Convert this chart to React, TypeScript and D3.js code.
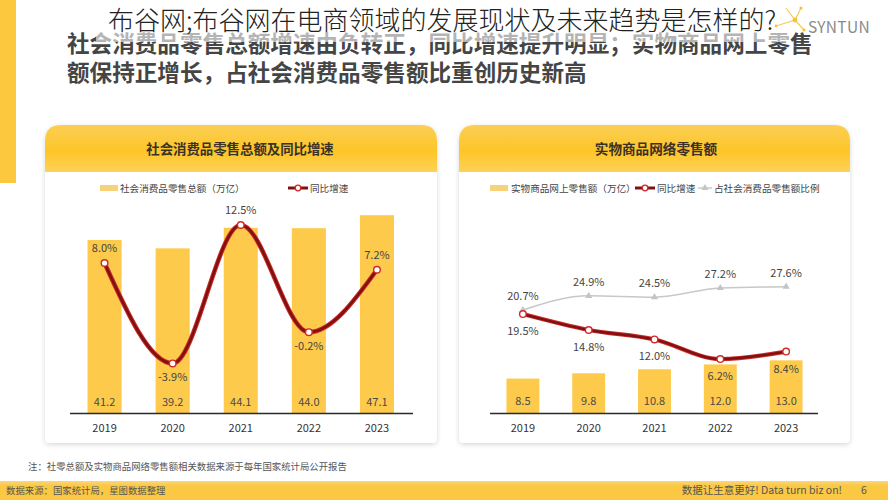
import React from 'react';
import * as d3 from 'd3';

const years = ['2019', '2020', '2021', '2022', '2023'];
const retailTotal = [41.2, 39.2, 44.1, 44.0, 47.1];
const retailGrowth = [8.0, -3.9, 12.5, -0.2, 7.2];
const onlineRetail = [8.5, 9.8, 10.8, 12.0, 13.0];
const onlineGrowth = [19.5, 14.8, 12.0, 6.2, 8.4];
const onlineShare = [20.7, 24.9, 24.5, 27.2, 27.6];

const FONT = '"Noto Sans CJK SC", "Noto Sans", sans-serif';
const BAR = '#fdca4c';
const RED_OUT = '#cf2a26';
const RED_IN = '#7e1212';

function panelPath(x0: number, y0: number, x1: number, y1: number, rt: number, rb: number) {
  return `M${x0},${y0 + rt} Q${x0},${y0} ${x0 + rt},${y0} L${x1 - rt},${y0} Q${x1},${y0} ${x1},${y0 + rt} L${x1},${y1 - rb} Q${x1},${y1} ${x1 - rb},${y1} L${x0 + rb},${y1} Q${x0},${y1} ${x0},${y1 - rb} Z`;
}
function headerPath(x0: number, y0: number, x1: number, y1: number, rt: number) {
  return `M${x0},${y1} L${x0},${y0 + rt} Q${x0},${y0} ${x0 + rt},${y0} L${x1 - rt},${y0} Q${x1},${y0} ${x1},${y0 + rt} L${x1},${y1} Z`;
}

export default function App() {
  const xL = d3.scaleBand<string>().domain(years).range([70.5, 411]).paddingInner(0.5).paddingOuter(0.25);
  const yLBar = d3.scaleLinear().domain([0, 50]).range([413, 203]);
  const yLLine = d3.scaleLinear().domain([-5, 15]).range([372.7, 203.9]);
  const xR = d3.scaleBand<string>().domain(years).range([490, 819]).paddingInner(0.5).paddingOuter(0.25);
  const yRBar = d3.scaleLinear().domain([0, 20]).range([413, 332]);
  const yRLine = d3.scaleLinear().domain([0, 40]).range([380, 244.8]);

  const cx = (s: d3.ScaleBand<string>, k: string) => (s(k) as number) + s.bandwidth() / 2;

  const lineL = d3.line<number>().x((_, i) => cx(xL, years[i])).y((d) => yLLine(d)).curve(d3.curveMonotoneX);
  const lineR = d3.line<number>().x((_, i) => cx(xR, years[i])).y((d) => yRLine(d)).curve(d3.curveMonotoneX);

  const tri = d3.symbol().type(d3.symbolTriangle).size(22)() as string;
  const txt = { fontFamily: FONT } as React.CSSProperties;

  return (
    <div style={{ position: 'absolute', left: 0, top: 0 }}>
      <svg width={888} height={500} style={{ display: 'block', background: '#fff' }}>
        <defs>
          <linearGradient id="hdr" x1="0" y1="0" x2="0" y2="1">
            <stop offset="0%" stopColor="#fbcf55" />
            <stop offset="55%" stopColor="#fdc527" />
            <stop offset="100%" stopColor="#fdd257" />
          </linearGradient>
          <linearGradient id="foot" x1="0" y1="0" x2="0" y2="1">
            <stop offset="0%" stopColor="#fbd77a" />
            <stop offset="25%" stopColor="#fac843" />
            <stop offset="100%" stopColor="#fac843" />
          </linearGradient>
          <filter id="sh" x="-5%" y="-5%" width="110%" height="115%">
            <feDropShadow dx="0" dy="1.5" stdDeviation="2.5" floodColor="#000" floodOpacity="0.16" />
          </filter>
        </defs>

        <rect x={0} y={0} width={16} height={183} fill="#fcc93e" />

        <g style={txt} fontWeight={700} fontSize={22.6} fill="#454545">
          <text x={67} y={52}>社会消费品零售总额增速由负转正，同比增速提升明显；实物商品网上零售</text>
          <text x={67} y={81}>额保持正增长，占社会消费品零售额比重创历史新高</text>
        </g>
        <rect x={96} y={0} width={694} height={42} fill="#fff" opacity={0.6} />
        <text x={108} y={29.5} style={txt} fontSize={26} fill="#222" fontWeight={300}>布谷网;布谷网在电商领域的发展现状及未来趋势是怎样的?</text>

        <g stroke="#f6c23a" strokeWidth={1.2} fill="none" opacity={0.85}>
          <line x1={776} y1={26} x2={795} y2={20} />
          <line x1={795} y1={20} x2={801} y2={8} />
          <line x1={795} y1={20} x2={804} y2={30} />
          <line x1={795} y1={20} x2={786} y2={8} />
        </g>
        <g fill="#f6c23a">
          <circle cx={795} cy={20} r={2.4} />
          <circle cx={801} cy={8} r={1.6} />
          <circle cx={804} cy={30} r={1.6} />
          <circle cx={776} cy={26} r={1.4} />
        </g>
        <text x={808} y={33} style={txt} fontSize={15.5} fill="#8a8a8a" letterSpacing={0.3}>SYNTUN</text>

        <path d={panelPath(45, 125, 437, 443, 16, 5)} fill="#fff" filter="url(#sh)" />
        <path d={headerPath(45, 125, 437, 172, 16)} fill="url(#hdr)" />
        <path d={panelPath(459, 125, 850, 443, 16, 5)} fill="#fff" filter="url(#sh)" />
        <path d={headerPath(459, 125, 850, 172, 16)} fill="url(#hdr)" />

        <text x={240} y={154} textAnchor="middle" style={txt} fontWeight={700} fontSize={13.4} fill="#3a3226">社会消费品零售总额及同比增速</text>
        <text x={656} y={154} textAnchor="middle" style={txt} fontWeight={700} fontSize={13.6} fill="#3a3226">实物商品网络零售额</text>

        <g style={txt} fontSize={9.6} fill="#444">
          <rect x={100} y={185} width={18} height={6} fill="#f8d27a" />
          <text x={120} y={191.5}>社会消费品零售总额（万亿）</text>
          <line x1={288} y1={188} x2={308} y2={188} stroke={RED_IN} strokeWidth={3} />
          <circle cx={298} cy={188} r={2.8} fill="#fff" stroke={RED_OUT} strokeWidth={1.3} />
          <text x={310} y={191.5}>同比增速</text>
        </g>
        <g style={txt} fontSize={9.6} fill="#444">
          <rect x={490} y={185} width={18} height={6} fill="#f8d27a" />
          <text x={511} y={191.5}>实物商品网上零售额（万亿）</text>
          <line x1={635} y1={188} x2={655} y2={188} stroke={RED_IN} strokeWidth={3} />
          <circle cx={645} cy={188} r={2.8} fill="#fff" stroke={RED_OUT} strokeWidth={1.3} />
          <text x={657} y={191.5}>同比增速</text>
          <line x1={698} y1={188} x2={712} y2={188} stroke="#c8c8c8" strokeWidth={1.4} />
          <path d={tri} transform="translate(705,188)" fill="#c4c4c4" />
          <text x={714} y={191.5}>占社会消费品零售额比例</text>
        </g>

        {retailTotal.map((v, i) => (
          <g key={'lb' + i}>
            <rect x={xL(years[i])} y={yLBar(v)} width={xL.bandwidth()} height={yLBar(0) - yLBar(v)} fill={BAR} />
            <text x={cx(xL, years[i])} y={406} textAnchor="middle" style={txt} fontSize={11} fill="#4a4a4a">{v.toFixed(1)}</text>
            <text x={cx(xL, years[i])} y={432} textAnchor="middle" style={txt} fontSize={11} fill="#333">{years[i]}</text>
          </g>
        ))}
        <line x1={70} x2={413} y1={413.5} y2={413.5} stroke="#2a2a2a" strokeWidth={1.6} />
        <path d={lineL(retailGrowth) as string} fill="none" stroke={RED_OUT} strokeWidth={4.6} />
        <path d={lineL(retailGrowth) as string} fill="none" stroke={RED_IN} strokeWidth={2.6} />
        {retailGrowth.map((v, i) => {
          const above = i === 0 || i === 2 || i === 4;
          return (
            <g key={'lp' + i}>
              <circle cx={cx(xL, years[i])} cy={yLLine(v)} r={3.3} fill="#fff" stroke={RED_OUT} strokeWidth={1.4} />
              <text x={cx(xL, years[i])} y={above ? yLLine(v) - 11 : yLLine(v) + 18} textAnchor="middle" style={txt} fontSize={11} fill="#444">{v.toFixed(1)}%</text>
            </g>
          );
        })}

        {onlineRetail.map((v, i) => (
          <g key={'rb' + i}>
            <rect x={xR(years[i])} y={yRBar(v)} width={xR.bandwidth()} height={yRBar(0) - yRBar(v)} fill={BAR} />
            <text x={cx(xR, years[i])} y={405} textAnchor="middle" style={txt} fontSize={11} fill="#4a4a4a">{v.toFixed(1)}</text>
            <text x={cx(xR, years[i])} y={432} textAnchor="middle" style={txt} fontSize={11} fill="#333">{years[i]}</text>
          </g>
        ))}
        <line x1={490} x2={818} y1={413.5} y2={413.5} stroke="#2a2a2a" strokeWidth={1.6} />
        <path d={lineR(onlineShare) as string} fill="none" stroke="#c8c8c8" strokeWidth={1.5} />
        {onlineShare.map((v, i) => (
          <g key={'rs' + i}>
            <path d={tri} transform={`translate(${cx(xR, years[i])},${yRLine(v)})`} fill="#c4c4c4" />
            <text x={cx(xR, years[i])} y={yRLine(v) - 10} textAnchor="middle" style={txt} fontSize={11} fill="#444">{v.toFixed(1)}%</text>
          </g>
        ))}
        <path d={lineR(onlineGrowth) as string} fill="none" stroke={RED_OUT} strokeWidth={4.2} />
        <path d={lineR(onlineGrowth) as string} fill="none" stroke={RED_IN} strokeWidth={2.4} />
        {onlineGrowth.map((v, i) => (
          <g key={'rg' + i}>
            <circle cx={cx(xR, years[i])} cy={yRLine(v)} r={3.3} fill="#fff" stroke={RED_OUT} strokeWidth={1.4} />
            <text x={cx(xR, years[i])} y={yRLine(v) + 21} textAnchor="middle" style={txt} fontSize={11} fill="#444">{v.toFixed(1)}%</text>
          </g>
        ))}

        <text x={28} y={470} style={txt} fontSize={9.4} fill="#555">注：社零总额及实物商品网络零售额相关数据来源于每年国家统计局公开报告</text>

        <rect x={0} y={481} width={888} height={19} fill="url(#foot)" />
        <text x={6} y={494} style={txt} fontSize={9.4} fill="#555">数据来源：国家统计局，星图数据整理</text>
        <text x={842} y={494} textAnchor="end" style={txt} fontSize={10.5} fill="#555">数据让生意更好! Data turn biz on!</text>
        <text x={864} y={494} textAnchor="middle" style={txt} fontSize={10.5} fill="#555">6</text>
      </svg>
    </div>
  );
}
